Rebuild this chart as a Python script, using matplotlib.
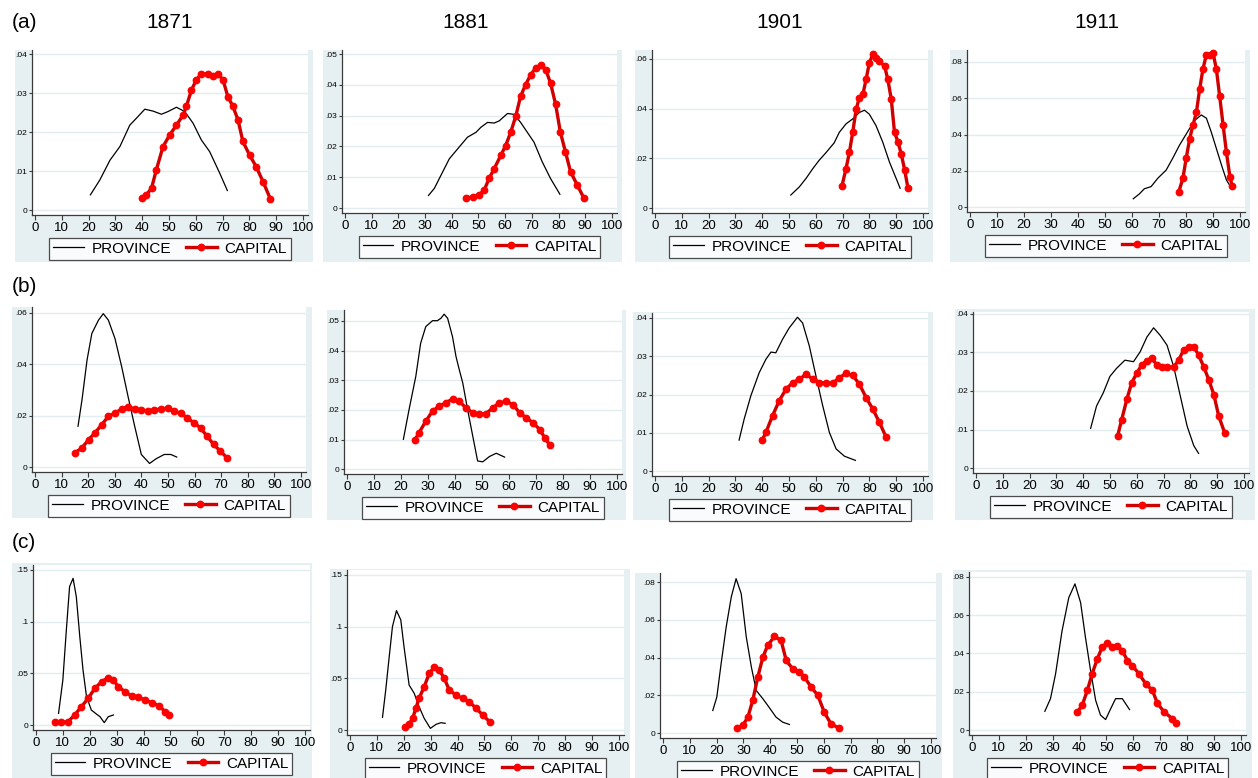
import matplotlib
matplotlib.use("Agg")
import matplotlib.pyplot as plt
from matplotlib.patches import Rectangle
from matplotlib.ticker import FuncFormatter

plt.rcParams['font.family'] = ['Liberation Sans', 'DejaVu Sans']

# --------------------------------------------------------
# data (x = share, y = density)
# --------------------------------------------------------
years = ['1871', '1881', '1901', '1911']
row_labels = ['(a)', '(b)', '(c)']

# row (a)
prov_x_a1871 = [20.7, 24.2, 28.0, 31.7, 35.4, 37.9, 41.0, 44.1, 47.2, 49.7, 52.8, 55.9, 59.0, 62.1, 65.2, 69.0, 71.8]
prov_y_a1871 = [.0039, .0077, .0128, .0163, .0218, .0236, .0259, .0254, .0246, .0253, .0264, .0253, .0223, .0180, .0150, .0094, .0050]
cap_x_a1871 = [39.8, 41.6, 43.5, 45.3, 47.8, 50.3, 52.8, 55.3, 56.5, 58.4, 60.2, 62.1, 64.6, 66.5, 68.3, 70.2, 72.0, 73.9, 75.8, 77.6, 80.1, 82.6, 85.1, 87.9]
cap_y_a1871 = [.0030, .0039, .0056, .0103, .0163, .0193, .0218, .0244, .0266, .0308, .0334, .0350, .0350, .0343, .0350, .0334, .0291, .0266, .0231, .0176, .0141, .0111, .0073, .0028]

prov_x_a1881 = [31.3, 33.5, 36.0, 39.1, 42.2, 45.9, 49.1, 50.9, 53.4, 55.9, 57.8, 60.9, 63.4, 65.8, 68.3, 70.8, 73.9, 77.0, 80.5]
prov_y_a1881 = [.0041, .0064, .0107, .0160, .0192, .0230, .0246, .0262, .0278, .0276, .0283, .0307, .0304, .0278, .0246, .0214, .0150, .0096, .0045]
cap_x_a1881 = [45.3, 47.8, 50.3, 52.2, 54.0, 55.9, 58.4, 60.2, 62.1, 64.0, 65.8, 67.7, 69.6, 71.4, 73.3, 75.2, 77.0, 78.9, 80.7, 82.6, 84.5, 87.0, 89.4]
cap_y_a1881 = [.0032, .0037, .0043, .0059, .0096, .0128, .0171, .0203, .0246, .0299, .0363, .0401, .0433, .0454, .0465, .0449, .0406, .0337, .0246, .0182, .0118, .0075, .0034]

prov_x_a1901 = [50.7, 53.9, 56.4, 58.9, 61.3, 63.8, 66.9, 68.8, 71.3, 73.8, 76.3, 78.2, 80.0, 82.5, 85.0, 87.5, 90.0, 91.5]
prov_y_a1901 = [.0053, .0086, .0120, .0159, .0193, .0223, .0263, .0305, .0339, .0359, .0385, .0394, .0378, .0332, .0266, .0186, .0120, .0080]
cap_x_a1901 = [69.8, 71.3, 72.6, 73.8, 75.1, 76.3, 77.6, 78.8, 80.0, 81.3, 82.5, 83.8, 85.7, 86.9, 88.2, 89.4, 90.7, 91.9, 93.2, 94.4]
cap_y_a1901 = [.0090, .0159, .0226, .0305, .0398, .0445, .0458, .0518, .0584, .0618, .0604, .0591, .0571, .0518, .0438, .0305, .0266, .0219, .0153, .0082]

prov_x_a1911 = [60.5, 62.7, 64.6, 67.1, 69.6, 72.7, 75.2, 77.6, 80.7, 83.2, 85.7, 87.6, 89.4, 91.3, 93.2, 95.0, 96.3]
prov_y_a1911 = [.0047, .0073, .0102, .0114, .0160, .0205, .0272, .0341, .0417, .0477, .0508, .0490, .0414, .0323, .0232, .0151, .0120]
cap_x_a1911 = [77.4, 78.9, 80.1, 81.4, 82.6, 83.9, 85.1, 86.3, 87.6, 88.8, 90.1, 91.3, 92.5, 93.8, 95.0, 96.3, 97.1]
cap_y_a1911 = [.0087, .0160, .0269, .0377, .0450, .0523, .0650, .0759, .0840, .0835, .0846, .0759, .0613, .0450, .0305, .0169, .0120]

# row (b)
prov_x_b1871 = [16.2, 17.7, 19.6, 21.4, 23.9, 25.7, 27.6, 30.1, 32.6, 35.0, 37.5, 40.0, 43.1, 45.5, 48.6, 51.1, 53.3]
prov_y_b1871 = [.0159, .0262, .0417, .0520, .0572, .0597, .0572, .0500, .0391, .0275, .0159, .0049, .0014, .0032, .0049, .0049, .0039]
cap_x_b1871 = [15.0, 17.7, 20.2, 22.6, 25.1, 27.6, 30.1, 32.6, 35.0, 37.5, 40.0, 42.5, 44.9, 47.4, 49.9, 52.4, 54.8, 57.3, 59.8, 62.3, 64.7, 67.2, 69.7, 72.2]
cap_y_b1871 = [.0055, .0075, .0107, .0133, .0165, .0197, .0210, .0226, .0234, .0226, .0223, .0217, .0223, .0226, .0230, .0217, .0210, .0191, .0172, .0152, .0120, .0088, .0062, .0036]

prov_x_b1881 = [20.9, 23.0, 25.5, 27.3, 29.2, 31.7, 33.5, 34.8, 36.0, 37.3, 39.1, 40.4, 41.6, 42.9, 44.7, 46.6, 48.4, 50.3, 52.8, 55.3, 58.4]
prov_y_b1881 = [.0101, .0201, .0313, .0425, .0481, .0501, .0501, .0509, .0523, .0509, .0447, .0380, .0336, .0291, .0201, .0112, .0028, .0025, .0043, .0054, .0041]
cap_x_b1881 = [25.1, 26.7, 29.2, 31.7, 34.2, 36.6, 39.1, 41.6, 44.1, 46.6, 49.1, 51.6, 54.0, 56.5, 59.0, 61.5, 64.0, 66.5, 68.9, 71.4, 73.3, 75.2]
cap_y_b1881 = [.0098, .0123, .0162, .0196, .0213, .0224, .0237, .0229, .0207, .0190, .0185, .0188, .0207, .0224, .0229, .0218, .0190, .0173, .0157, .0134, .0106, .0081]

prov_x_b1901 = [31.4, 33.3, 35.8, 38.9, 41.4, 43.3, 45.1, 47.6, 50.1, 53.2, 55.1, 57.6, 60.1, 62.6, 65.1, 67.6, 70.7, 74.8]
prov_y_b1901 = [.0081, .0136, .0197, .0257, .0292, .0311, .0309, .0344, .0374, .0402, .0387, .0327, .0248, .0171, .0101, .0058, .0039, .0028]
cap_x_b1901 = [40.1, 41.4, 43.9, 46.4, 48.9, 51.4, 53.9, 56.4, 58.9, 61.3, 63.8, 66.3, 68.8, 71.3, 73.8, 76.3, 78.8, 81.3, 83.8, 86.3]
cap_y_b1901 = [.0082, .0101, .0145, .0184, .0214, .0231, .0240, .0253, .0240, .0231, .0231, .0229, .0244, .0255, .0250, .0227, .0192, .0162, .0127, .0088]

prov_x_b1911 = [42.8, 45.0, 47.5, 50.0, 52.5, 55.6, 58.8, 61.3, 63.8, 66.3, 68.8, 71.3, 73.8, 76.3, 78.8, 81.3, 83.1]
prov_y_b1911 = [.0103, .0161, .0195, .0238, .0259, .0280, .0276, .0302, .0340, .0364, .0344, .0319, .0263, .0186, .0109, .0058, .0038]
cap_x_b1911 = [52.9, 54.4, 56.3, 58.1, 60.0, 61.9, 63.8, 65.6, 67.5, 69.4, 71.3, 73.8, 75.6, 77.5, 79.4, 81.3, 83.1, 85.0, 86.9, 88.8, 90.6, 92.8]
cap_y_b1911 = [.0084, .0126, .0178, .0221, .0246, .0268, .0279, .0285, .0268, .0262, .0262, .0262, .0280, .0306, .0315, .0315, .0293, .0263, .0229, .0190, .0135, .0092]

# row (c)
prov_x_c1871 = [8.4, 10.0, 11.3, 12.5, 13.8, 15.0, 16.3, 17.5, 18.8, 20.6, 22.5, 23.8, 25.4, 26.9, 28.8]
prov_y_c1871 = [.0113, .0435, .0919, .1339, .1419, .1242, .0855, .0532, .0274, .0145, .0106, .0081, .0023, .0081, .0097]
cap_x_c1871 = [7.1, 9.4, 11.9, 14.4, 16.9, 19.4, 21.9, 24.4, 26.9, 28.8, 30.6, 33.1, 35.6, 38.1, 40.6, 43.1, 45.6, 48.1, 49.6]
cap_y_c1871 = [.0026, .0026, .0032, .0097, .0177, .0258, .0355, .0419, .0458, .0435, .0371, .0323, .0281, .0268, .0242, .0216, .0187, .0129, .0097]

prov_x_c1881 = [12.1, 13.3, 14.6, 15.8, 17.3, 18.9, 20.1, 22.0, 23.9, 25.7, 27.6, 29.9, 32.0, 33.8, 35.4]
prov_y_c1881 = [.0123, .0387, .0710, .1000, .1155, .1065, .0806, .0435, .0355, .0226, .0113, .0016, .0055, .0071, .0065]
cap_x_c1881 = [20.5, 22.0, 23.3, 24.5, 25.7, 27.6, 29.5, 31.3, 33.2, 35.1, 36.9, 39.4, 41.9, 44.4, 46.9, 49.4, 51.9]
cap_y_c1881 = [.0032, .0055, .0113, .0210, .0306, .0419, .0548, .0606, .0581, .0500, .0387, .0339, .0306, .0274, .0210, .0145, .0081]

prov_x_c1901 = [18.6, 20.1, 21.7, 23.6, 25.5, 27.3, 29.2, 31.1, 33.0, 34.8, 37.3, 39.1, 42.2, 44.7, 47.2]
prov_y_c1901 = [.0120, .0191, .0367, .0562, .0721, .0818, .0739, .0509, .0350, .0226, .0182, .0147, .0085, .0058, .0046]
cap_x_c1901 = [27.6, 29.8, 31.7, 33.5, 35.4, 37.3, 39.1, 41.6, 44.1, 46.0, 48.4, 50.9, 52.8, 55.3, 57.8, 60.2, 62.7, 65.6]
cap_y_c1901 = [.0028, .0041, .0085, .0173, .0297, .0403, .0465, .0512, .0491, .0385, .0341, .0323, .0297, .0244, .0200, .0111, .0049, .0028]

prov_x_c1911 = [27.1, 29.2, 31.1, 33.5, 36.0, 38.3, 40.4, 42.2, 44.1, 46.0, 47.8, 49.7, 51.6, 53.4, 55.9, 58.6]
prov_y_c1911 = [.0098, .0164, .0294, .0518, .0691, .0763, .0665, .0484, .0311, .0155, .0078, .0055, .0112, .0164, .0164, .0107]
cap_x_c1911 = [39.1, 41.0, 42.9, 44.7, 46.6, 48.4, 50.3, 52.2, 54.0, 55.9, 57.8, 59.6, 62.1, 64.6, 67.1, 68.9, 71.4, 74.5, 75.8]
cap_y_c1911 = [.0092, .0130, .0207, .0294, .0371, .0432, .0453, .0435, .0440, .0415, .0363, .0337, .0294, .0242, .0207, .0142, .0095, .0060, .0038]

# y ticks per panel and the top of each y range
yticks_a = [[0, .01, .02, .03, .04], [0, .01, .02, .03, .04, .05], [0, .02, .04, .06], [0, .02, .04, .06, .08]]
yticks_b = [[0, .02, .04, .06], [0, .01, .02, .03, .04, .05], [0, .01, .02, .03, .04], [0, .01, .02, .03, .04]]
yticks_c = [[0, .05, .1, .15], [0, .05, .1, .15], [0, .02, .04, .06, .08], [0, .02, .04, .06, .08]]
ytop_a = [.0411, .0513, .0636, .0865]
ytop_b = [.0623, .0537, .0413, .0405]
ytop_c = [.1548, .1548, .0848, .0825]

panels = [
    [(prov_x_a1871, prov_y_a1871, cap_x_a1871, cap_y_a1871),
     (prov_x_a1881, prov_y_a1881, cap_x_a1881, cap_y_a1881),
     (prov_x_a1901, prov_y_a1901, cap_x_a1901, cap_y_a1901),
     (prov_x_a1911, prov_y_a1911, cap_x_a1911, cap_y_a1911)],
    [(prov_x_b1871, prov_y_b1871, cap_x_b1871, cap_y_b1871),
     (prov_x_b1881, prov_y_b1881, cap_x_b1881, cap_y_b1881),
     (prov_x_b1901, prov_y_b1901, cap_x_b1901, cap_y_b1901),
     (prov_x_b1911, prov_y_b1911, cap_x_b1911, cap_y_b1911)],
    [(prov_x_c1871, prov_y_c1871, cap_x_c1871, cap_y_c1871),
     (prov_x_c1881, prov_y_c1881, cap_x_c1881, cap_y_c1881),
     (prov_x_c1901, prov_y_c1901, cap_x_c1901, cap_y_c1901),
     (prov_x_c1911, prov_y_c1911, cap_x_c1911, cap_y_c1911)],
]
yticks = [yticks_a, yticks_b, yticks_c]
ytops = [ytop_a, ytop_b, ytop_c]

# --------------------------------------------------------
# layout (pixels of the 1258x778 picture)
# --------------------------------------------------------
W, H = 1258, 778
BG = '#e6eff1'
GRID = '#e3ecee'

# plot region: left, right, top, bottom
ax_px = [
    [(32, 308, 50, 215), (342, 617, 50, 213), (652, 928, 50, 213), (967, 1245, 50, 212)],
    [(32, 306, 307, 472), (344, 622, 310, 474), (652, 928, 313, 476), (973, 1249, 312, 473)],
    [(33, 310, 565, 730), (347, 624, 570, 735), (660, 936, 573, 738), (969, 1246, 572, 735)],
]
# outer graph region: x0, x1, y0, y1
bg_px = [
    [(15, 313, 50, 262), (323, 622, 50, 262), (635, 933, 50, 262), (950, 1250, 50, 262)],
    [(12, 312, 307, 518), (327, 626, 310, 520), (633, 933, 312, 520), (955, 1255, 309, 520)],
    [(12, 312, 563, 778), (330, 630, 569, 778), (635, 942, 573, 778), (953, 1252, 570, 778)],
]


def stata_fmt(v, pos):
    s = f"{v:g}"
    if s.startswith("0."):
        s = s[1:]
    return s


fig = plt.figure(figsize=(W / 100, H / 100), dpi=100)
fig.patch.set_facecolor('white')

for r in range(3):
    for c in range(4):
        x0, x1, y0, y1 = bg_px[r][c]
        fig.add_artist(Rectangle((x0 / W, 1 - y1 / H), (x1 - x0) / W, (y1 - y0) / H,
                                 transform=fig.transFigure, facecolor=BG,
                                 edgecolor='none', zorder=0))

        L, R, T, B = ax_px[r][c]
        ax = fig.add_axes([L / W, 1 - B / H, (R - L) / W, (B - T) / H])
        ax.set_facecolor('white')

        px, py, cx, cy = panels[r][c]
        ax.plot(px, py, color='black', lw=0.9, label='PROVINCE', clip_on=False)
        ax.plot(cx, cy, color='#d00000', lw=2.4, marker='o', ms=4.6,
                mfc='#ff0000', mec='#ff0000', label='CAPITAL', clip_on=False)

        yt = yticks[r][c]
        ymax = yt[-1]
        ax.set_ylim(-0.032 * ymax, ytops[r][c])
        ax.set_xlim(-1.1, 101.9)
        ax.set_xticks(range(0, 101, 10))
        ax.set_yticks(yt)
        ax.yaxis.set_major_formatter(FuncFormatter(stata_fmt))
        ax.grid(axis='y', color=GRID, lw=1)
        ax.set_axisbelow(True)

        for s in ['top', 'right']:
            ax.spines[s].set_visible(False)
        for s in ['left', 'bottom']:
            ax.spines[s].set_color('#3a3a3a')
            ax.spines[s].set_linewidth(0.9)
        ax.tick_params(axis='x', labelsize=9.5, length=3.5, width=0.8,
                       color='#3a3a3a', pad=1.5)
        ax.tick_params(axis='y', labelsize=6, length=2.5, width=0.8,
                       color='#3a3a3a', pad=1)

        h = B - T
        leg = ax.legend(loc='upper center', bbox_to_anchor=(0.5, -23 / h), ncol=2,
                        fontsize=11, frameon=True, fancybox=False, edgecolor='#222222',
                        borderpad=0.25, handlelength=2.0, handletextpad=0.5,
                        columnspacing=1.0, numpoints=1, borderaxespad=0)
        leg.get_frame().set_linewidth(0.9)

# titles
col_centers = [170, 466, 780, 1097]
for c, yr in enumerate(years):
    fig.text(col_centers[c] / W, 1 - 22 / H, yr, ha='center', va='center', fontsize=15)
row_y = [23, 287, 543]
for r, lab in enumerate(row_labels):
    fig.text(12 / W, 1 - row_y[r] / H, lab, ha='left', va='center', fontsize=15)

fig.savefig('out.png', dpi=100, facecolor='white')
